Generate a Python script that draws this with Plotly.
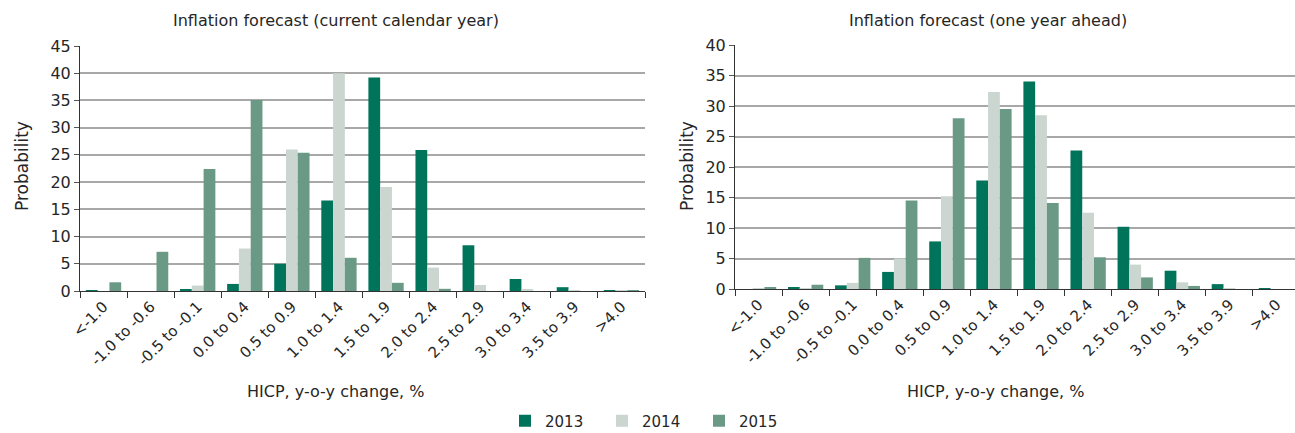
import plotly.graph_objects as go

categories = ["<-1.0", "-1.0 to -0.6", "-0.5 to -0.1", "0.0 to 0.4", "0.5 to 0.9",
              "1.0 to 1.4", "1.5 to 1.9", "2.0 to 2.4", "2.5 to 2.9", "3.0 to 3.4",
              "3.5 to 3.9", ">4.0"]
years = ["2013", "2014", "2015"]

current_2013 = [0.1, 0.0, 0.2, 1.3, 5.0, 16.6, 39.2, 25.9, 8.4, 2.2, 0.7, 0.1]
current_2014 = [0.0, 0.0, 1.0, 7.8, 26.0, 40.0, 19.1, 4.3, 1.1, 0.3, 0.1, 0.1]
current_2015 = [1.6, 7.2, 22.4, 35.1, 25.4, 6.1, 1.5, 0.4, 0.0, 0.0, 0.0, 0.1]

ahead_2013 = [0.0, 0.2, 0.6, 2.8, 7.8, 17.8, 34.0, 22.7, 10.2, 3.0, 0.8, 0.1]
ahead_2014 = [0.1, 0.1, 1.0, 5.0, 15.2, 32.3, 28.5, 12.5, 4.0, 1.1, 0.1, 0.0]
ahead_2015 = [0.3, 0.7, 5.1, 14.5, 28.0, 29.5, 14.1, 5.2, 1.9, 0.5, 0.0, 0.0]

colors = ["#00745A", "#CBD6D0", "#6A9A86"]

W, H = 1295, 433
FONT = "DejaVu Sans, Liberation Sans, Arial, sans-serif"
TXT = "#262626"

fig = go.Figure()
for yr, vals, col in zip(years, [current_2013, current_2014, current_2015], colors):
    fig.add_trace(go.Bar(x=categories, y=vals, name=yr, marker_color=col,
                         marker_line_width=0, xaxis="x", yaxis="y", legendgroup=yr))
for yr, vals, col in zip(years, [ahead_2013, ahead_2014, ahead_2015], colors):
    fig.add_trace(go.Bar(x=categories, y=vals, name=yr, marker_color=col,
                         marker_line_width=0, xaxis="x2", yaxis="y2", legendgroup=yr,
                         showlegend=False))

def px_x(p):
    return p / W

def px_y(p):
    return 1 - p / H

cat_w = (645 - 80) / 12.0
right_span = (W - 735) / cat_w

xcommon = dict(type="category", showline=True, linecolor="#333333", linewidth=1,
               ticks="outside", tickson="boundaries", ticklen=6, tickcolor="#333333",
               tickangle=-45, tickfont=dict(family=FONT, size=15, color=TXT),
               showgrid=False, fixedrange=True, automargin=False)
ycommon = dict(showline=True, linecolor="#333333", linewidth=1, ticks="outside",
               ticklen=5, tickcolor="#555555", dtick=5, showgrid=True,
               gridcolor="#A8A8A8", gridwidth=1.5, zeroline=False,
               tickfont=dict(family=FONT, size=16, color=TXT), fixedrange=True,
               automargin=False)

fig.update_layout(
    width=W, height=H,
    margin=dict(l=0, r=0, t=0, b=0, autoexpand=False),
    paper_bgcolor="white", plot_bgcolor="white",
    barmode="group", bargap=0.25, bargroupgap=0,
    font=dict(family=FONT, color=TXT),
    xaxis=dict(domain=[px_x(80), px_x(645)], anchor="y", range=[-0.5, 11.5], **xcommon),
    yaxis=dict(domain=[px_y(291), px_y(46)], anchor="x", range=[0, 45], **ycommon),
    xaxis2=dict(domain=[px_x(735), 1.0], anchor="y2", range=[-0.5, -0.5 + right_span], **xcommon),
    yaxis2=dict(domain=[px_y(289), px_y(45)], anchor="x2", range=[0, 40], **ycommon),
    legend=dict(orientation="h", x=px_x(505), xanchor="left", y=px_y(421), yanchor="middle",
                font=dict(family=FONT, size=15, color=TXT), entrywidth=52,
                entrywidthmode="pixels", traceorder="normal"),
    showlegend=True,
)

annotations = [
    dict(text="Inflation forecast (current calendar year)", x=px_x(336), y=px_y(20), size=16),
    dict(text="Inflation forecast (one year ahead)", x=px_x(988), y=px_y(20), size=16),
    dict(text="HICP, y-o-y change, %", x=px_x(335), y=px_y(391), size=16),
    dict(text="HICP, y-o-y change, %", x=px_x(995), y=px_y(391), size=16),
]
for a in annotations:
    fig.add_annotation(text=a["text"], x=a["x"], y=a["y"], xref="paper", yref="paper",
                       showarrow=False, xanchor="center", yanchor="middle",
                       font=dict(family=FONT, size=a["size"], color=TXT))
for xp in [22, 687]:
    fig.add_annotation(text="Probability", x=px_x(xp), y=px_y(166), xref="paper", yref="paper",
                       showarrow=False, textangle=-90, xanchor="center", yanchor="middle",
                       font=dict(family=FONT, size=17, color=TXT))

fig.write_html("out.html", config={"displayModeBar": False},
               post_script="document.body.style.margin='0';document.body.style.overflow='hidden';")
